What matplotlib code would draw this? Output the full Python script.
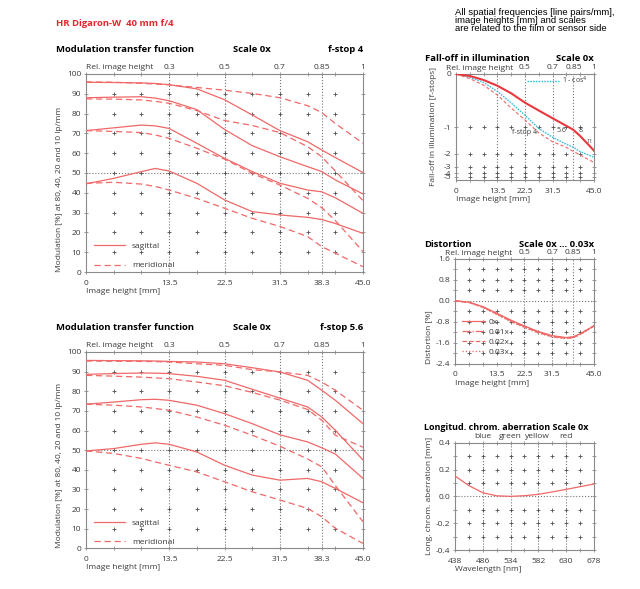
import numpy as np
import matplotlib
matplotlib.use('Agg')
import matplotlib.pyplot as plt

plt.rcParams['font.family'] = ['Open Sans', 'DejaVu Sans']
plt.rcParams['axes.unicode_minus'] = False

RED = '#f06868'
RED2 = '#e8383d'
CYAN = '#3cbfdc'
GREY = '#8a8a8a'
TXT = '#3a3a3a'

# --- MTF data (image height in mm, modulation in %) ---
mm = [0, 4.5, 9, 11.25, 13.5, 18, 22.5, 27, 31.5, 36, 38.3, 40.5, 45]

# f-stop 4
f4_10s = [95.8, 95.7, 95.5, 95.2, 94.6, 92.5, 87.0, 79.3, 71.4, 65.8, 61.6, 57.8, 50.2]
f4_10m = [96.0, 95.8, 95.3, 94.9, 94.5, 93.2, 91.8, 90.2, 88.0, 84.0, 80.5, 75.0, 65.0]
f4_20s = [88.0, 88.3, 88.5, 87.8, 86.5, 82.0, 72.0, 63.8, 58.2, 53.2, 50.7, 46.5, 39.4]
f4_20m = [87.4, 87.3, 86.9, 86.2, 85.2, 81.5, 76.5, 74.0, 70.4, 63.3, 58.2, 51.0, 36.0]
f4_40s = [71.4, 72.8, 74.2, 73.8, 72.5, 65.0, 57.4, 50.7, 44.8, 41.4, 40.5, 37.5, 29.6]
f4_40m = [71.4, 71.0, 70.4, 69.2, 67.5, 62.5, 57.0, 49.8, 43.9, 37.2, 32.5, 26.0, 10.3]
f4_80s = [44.5, 47.3, 50.7, 52.3, 51.0, 44.8, 36.4, 30.5, 28.8, 27.6, 26.5, 24.5, 19.5]
f4_80m = [44.8, 45.3, 44.4, 43.2, 41.4, 37.2, 32.2, 27.1, 23.0, 17.9, 12.8, 9.5, 2.7]

# f-stop 5.6
f56_10s = [95.7, 95.6, 95.5, 95.4, 95.2, 94.9, 94.0, 92.0, 89.8, 85.6, 80.5, 75.4, 63.5]
f56_10m = [95.4, 95.3, 95.2, 95.1, 94.9, 94.0, 93.2, 91.0, 89.9, 88.1, 84.7, 80.5, 70.3]
f56_20s = [88.6, 89.0, 89.3, 89.2, 89.0, 87.6, 85.6, 81.0, 76.5, 72.0, 66.9, 60.1, 45.0]
f56_20m = [88.1, 87.7, 87.2, 86.8, 86.4, 84.7, 82.8, 79.4, 75.5, 70.7, 65.2, 57.6, 51.5]
f56_40s = [73.4, 74.5, 75.7, 75.9, 75.4, 72.9, 68.6, 63.5, 57.8, 54.2, 51.2, 48.0, 35.6]
f56_40m = [73.4, 72.9, 72.0, 71.2, 70.3, 66.9, 62.7, 57.6, 52.0, 45.5, 41.5, 32.0, 13.5]
f56_80s = [49.6, 50.8, 53.0, 53.7, 53.0, 49.1, 42.3, 37.3, 34.7, 35.6, 33.9, 30.5, 23.2]
f56_80m = [49.6, 48.3, 45.8, 44.0, 42.3, 38.9, 33.9, 28.8, 24.6, 20.3, 16.1, 10.2, 2.5]

mm_ticks = [0, 13.5, 22.5, 31.5, 38.3, 45.0]
mm_labels = ['0', '13.5', '22.5', '31.5', '38.3', '45.0']
rel_mm = [13.5, 22.5, 31.5, 38.3, 45.0]
rel_labels = ['0.3', '0.5', '0.7', '0.85', '1']

# --- fall-off in illumination (f-stops) ---
fo_mm = [0, 4.5, 9, 13.5, 18, 22.5, 27, 31.5, 36, 38.3, 40.5, 45]
fo_f4 = [0, -0.065, -0.16, -0.32, -0.56, -0.82, -1.17, -1.47, -1.70, -1.90, -2.08, -2.6]
fo_f56 = [0, -0.027, -0.084, -0.17, -0.29, -0.455, -0.61, -0.78, -0.97, -1.08, -1.27, -1.85]
fo_cos4 = [0, -0.046, -0.12, -0.26, -0.46, -0.71, -1.04, -1.31, -1.57, -1.70, -1.90, -2.22]

# --- distortion (%) ---
d_mm = [0, 4.5, 9, 13.5, 18, 22.5, 27, 31.5, 36, 38.3, 40.5, 45]
dist_0 = [0, -0.05, -0.22, -0.47, -0.73, -0.96, -1.17, -1.33, -1.40, -1.37, -1.26, -0.95]
dist_1 = [0, -0.05, -0.23, -0.49, -0.75, -0.98, -1.19, -1.35, -1.42, -1.39, -1.27, -0.95]
dist_2 = [0, -0.06, -0.24, -0.50, -0.77, -1.00, -1.21, -1.37, -1.43, -1.40, -1.28, -0.96]
dist_3 = [0, -0.06, -0.25, -0.52, -0.79, -1.02, -1.23, -1.38, -1.44, -1.41, -1.29, -0.97]

# --- longitudinal chromatic aberration (mm) ---
wl = [438, 462, 486, 510, 534, 558, 582, 606, 630, 654, 678]
lca = [0.152, 0.080, 0.027, 0.004, 0.0, 0.005, 0.015, 0.033, 0.052, 0.072, 0.092]
wl_ticks = [438, 486, 534, 582, 630, 678]
col_pos = [486, 534, 580, 630]
col_names = ['blue', 'green', 'yellow', 'red']

FS = 6.0
TFS = 6.8


def frame(ax):
    for s in ax.spines.values():
        s.set_color(GREY)
        s.set_linewidth(0.8)
    ax.tick_params(which='both', direction='inout', colors=GREY, labelcolor=TXT,
                   labelsize=FS, top=True, right=True, length=3, width=0.6, pad=2)
    ax.tick_params(axis='x', pad=4)
    ax.tick_params(which='minor', length=2.5)


def pluses(ax, xs, ys):
    gx, gy = np.meshgrid(xs, ys)
    ax.plot(gx.ravel(), gy.ravel(), '+', color='#505050', ms=2.5, mew=0.6, zorder=1)


def top_labels(ax, pos, labels, first='Rel. image height', first_x=0.0):
    sec = ax.secondary_xaxis('top')
    sec.set_xticks(pos, labels)
    sec.tick_params(length=0, pad=2, labelsize=FS, labelcolor=TXT)
    for s in sec.spines.values():
        s.set_visible(False)
    if first:
        ax.text(first_x, 1.015, first, transform=ax.transAxes, fontsize=FS,
                color=TXT, ha='left', va='bottom')


def mtf_panel(ax, curves, fstop):
    for i, (sag, mer) in enumerate(curves):
        ax.plot(mm, sag, '-', color=RED, lw=0.9, label='sagittal' if i == 0 else None, zorder=3)
        ax.plot(mm, mer, '--', color=RED, lw=0.9, dashes=(5, 3),
                label='meridional' if i == 0 else None, zorder=3)
    ax.set_xlim(0, 45)
    ax.set_ylim(0, 100)
    for x in [13.5, 22.5, 31.5, 38.3]:
        ax.axvline(x, color='#777777', ls=':', lw=0.8, zorder=0)
    ax.axhline(50, color='#777777', ls=':', lw=0.8, zorder=0)
    pluses(ax, np.arange(4.5, 44, 4.5), np.arange(10, 100, 10))
    ax.set_xticks(mm_ticks, mm_labels)
    ax.set_xticks(np.arange(0, 45.1, 4.5), minor=True)
    ax.set_yticks(np.arange(0, 101, 10))
    frame(ax)
    top_labels(ax, rel_mm, rel_labels)
    ax.set_xlabel('Image height [mm]', fontsize=FS, color=TXT, loc='left', labelpad=1)
    ax.set_ylabel('Modulation [%] at 80, 40, 20 and 10 lp/mm', fontsize=FS, color=TXT,
                  loc='bottom', labelpad=3)
    ax.legend(loc='lower left', bbox_to_anchor=(0.0, -0.025), frameon=False, fontsize=FS,
              handlelength=3.8, labelspacing=1.35, labelcolor=TXT)
    ax.text(-0.108, 1.1, 'Modulation transfer function', transform=ax.transAxes,
            fontsize=TFS, fontweight='bold', ha='left', va='bottom')
    ax.text(0.53, 1.1, 'Scale 0x', transform=ax.transAxes,
            fontsize=TFS, fontweight='bold', ha='left', va='bottom')
    ax.text(1.0, 1.1, 'f-stop ' + fstop, transform=ax.transAxes,
            fontsize=TFS, fontweight='bold', ha='right', va='bottom')


fig = plt.figure(figsize=(6.4, 5.89), dpi=100)

ax1 = fig.add_axes([0.1344, 0.5382, 0.4328, 0.3362])
mtf_panel(ax1, [(f4_10s, f4_10m), (f4_20s, f4_20m), (f4_40s, f4_40m), (f4_80s, f4_80m)], '4')

ax2 = fig.add_axes([0.1344, 0.0691, 0.4328, 0.3333])
mtf_panel(ax2, [(f56_10s, f56_10m), (f56_20s, f56_20m), (f56_40s, f56_40m), (f56_80s, f56_80m)], '5.6')

fig.text(56 / 640, 1 - 24 / 589, 'HR Digaron-W  40 mm f/4', color='#e3262e',
         fontsize=TFS, fontweight='bold', ha='left', va='center')
fig.text(455 / 640, 1 - 8 / 589,
         'All spatial frequencies [line pairs/mm],\nimage heights [mm] and scales\n'
         'are related to the film or sensor side',
         family='Liberation Sans', fontsize=6.8, linespacing=0.85, ha='left', va='top')

# fall-off in illumination
ax3 = fig.add_axes([0.7125, 0.6944, 0.2156, 0.18])
ax3.set_yscale('function', functions=(lambda s: 2.0 ** s,
                                       lambda v: np.log2(np.clip(v, 1e-12, None))))
ax3.plot(fo_mm, fo_cos4, ':', color=CYAN, lw=1.0, dashes=(1.2, 0.8), label='1 - cos$^4$', zorder=3)
ax3.plot(fo_mm, fo_f4, '--', color=RED, lw=0.8, dashes=(3, 2), zorder=3)
ax3.plot(fo_mm, fo_f56, '-', color=RED2, lw=1.5, zorder=4)
ax3.set_xlim(0, 45)
ax3.set_ylim(-12, 0)
for x in [13.5, 22.5, 31.5, 38.3]:
    ax3.axvline(x, color='#777777', ls=':', lw=0.8, zorder=0)
pluses(ax3, np.arange(4.5, 44, 4.5), [-1, -2, -3, -4, -5])
ax3.set_xticks([0, 13.5, 22.5, 31.5, 45.0], ['0', '13.5', '22.5', '31.5', '45.0'])
ax3.set_xticks(np.arange(0, 45.1, 4.5), minor=True)
ax3.set_yticks([0, -1, -2, -3, -4, -5], ['0', '-1', '-2', '-3', '-4', '-5'])
ax3.yaxis.set_minor_locator(matplotlib.ticker.NullLocator())
frame(ax3)
top_labels(ax3, [22.5, 31.5, 38.3, 45.0], ['0.5', '0.7', '0.85', '1'], first_x=-0.07)
ax3.text(22.2, -1.16, 'f-stop 4', fontsize=5.0, color=TXT, ha='center', va='center')
ax3.text(34.5, -1.11, '5.6', fontsize=5.0, color=TXT, ha='center', va='center')
ax3.text(40.7, -1.11, '8', fontsize=5.0, color=TXT, ha='center', va='center')
ax3.text(43.7, -1.47, '11', fontsize=4.0, color=TXT, ha='center', va='center')
ax3.legend(loc='upper right', bbox_to_anchor=(1.0, 1.05), frameon=False, fontsize=5.0,
           handlelength=4.5, labelcolor=TXT, handletextpad=0.5)
ax3.set_xlabel('Image height [mm]', fontsize=FS, color=TXT, loc='left', labelpad=1)
ax3.set_ylabel('Fall-off in illumination [f-stops]', fontsize=FS, color=TXT, labelpad=5)
ax3.text(-0.225, 1.1, 'Fall-off in illumination', transform=ax3.transAxes,
         fontsize=TFS, fontweight='bold', ha='left', va='bottom')
ax3.text(1.0, 1.1, 'Scale 0x', transform=ax3.transAxes,
         fontsize=TFS, fontweight='bold', ha='right', va='bottom')

# distortion
ax4 = fig.add_axes([0.7109, 0.3825, 0.2172, 0.1778])
ax4.plot(d_mm, dist_0, '-', color=RED, lw=0.9, label='0x', zorder=3)
ax4.plot(d_mm, dist_1, '-.', color=RED, lw=0.9, label='0.01x', zorder=3)
ax4.plot(d_mm, dist_2, '--', color=RED, lw=0.9, label='0.02x', zorder=3)
ax4.plot(d_mm, dist_3, ':', color=RED, lw=0.9, label='0.03x', zorder=3)
ax4.set_xlim(0, 45)
ax4.set_ylim(-2.4, 1.6)
for x in [22.5, 31.5, 38.3]:
    ax4.axvline(x, color='#777777', ls=':', lw=0.8, zorder=0)
ax4.axhline(0, color='#777777', ls=':', lw=0.8, zorder=0)
pluses(ax4, np.arange(4.5, 44, 4.5), [1.2, 0.8, 0.4, -0.4, -0.8, -1.2, -1.6, -2.0])
ax4.set_xticks([0, 13.5, 22.5, 31.5, 45.0], ['0', '13.5', '22.5', '31.5', '45.0'])
ax4.set_xticks(np.arange(0, 45.1, 4.5), minor=True)
ax4.set_yticks([1.6, 0.8, 0.0, -0.8, -1.6, -2.4], ['1.6', '0.8', '0.0', '-0.8', '-1.6', '-2.4'])
ax4.set_yticks(np.arange(-2.4, 1.61, 0.4), minor=True)
frame(ax4)
top_labels(ax4, [22.5, 31.5, 38.3, 45.0], ['0.5', '0.7', '0.85', '1'], first_x=-0.07)
ax4.legend(loc='lower left', bbox_to_anchor=(0.0, 0.0), frameon=False, fontsize=FS,
           handlelength=2.7, labelspacing=0.28, labelcolor=TXT, handletextpad=0.4)
ax4.set_xlabel('Image height [mm]', fontsize=FS, color=TXT, loc='left', labelpad=1)
ax4.set_ylabel('Distortion [%]', fontsize=FS, color=TXT, loc='bottom', labelpad=2)
ax4.text(-0.22, 1.1, 'Distortion', transform=ax4.transAxes,
         fontsize=TFS, fontweight='bold', ha='left', va='bottom')
ax4.text(1.0, 1.1, 'Scale 0x ... 0.03x', transform=ax4.transAxes,
         fontsize=TFS, fontweight='bold', ha='right', va='bottom')

# longitudinal chromatic aberration
ax5 = fig.add_axes([0.7109, 0.0662, 0.2172, 0.1822])
ax5.plot(wl, lca, '-', color=RED, lw=0.9, zorder=3)
ax5.set_xlim(438, 678)
ax5.set_ylim(-0.4, 0.4)
for x in [486, 534, 582, 630]:
    ax5.axvline(x, color='#777777', ls=':', lw=0.8, zorder=0)
ax5.axhline(0, color='#777777', ls=':', lw=0.8, zorder=0)
pluses(ax5, np.arange(462, 670, 24), [0.3, 0.2, 0.1, -0.1, -0.2, -0.3])
ax5.set_xticks(wl_ticks, [str(w) for w in wl_ticks])
ax5.set_xticks(np.arange(438, 679, 24), minor=True)
ax5.set_yticks([0.4, 0.2, 0.0, -0.2, -0.4], ['0.4', '0.2', '0.0', '-0.2', '-0.4'])
ax5.set_yticks(np.arange(-0.4, 0.41, 0.1), minor=True)
frame(ax5)
top_labels(ax5, col_pos, col_names, first=None)
ax5.set_xlabel('Wavelength [nm]', fontsize=FS, color=TXT, loc='left', labelpad=1)
ax5.set_ylabel('Long. chrom. aberration [mm]', fontsize=FS, color=TXT, labelpad=2)
ax5.text(-0.22, 1.1, 'Longitud. chrom. aberration Scale 0x', transform=ax5.transAxes,
         fontsize=6.5, fontweight='bold', ha='left', va='bottom')

fig.savefig('out.png', dpi=100, facecolor='white')
